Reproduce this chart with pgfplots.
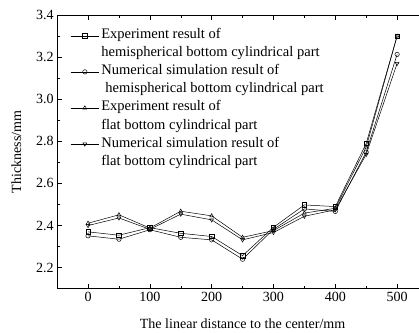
\documentclass[border=0pt]{standalone}
\usepackage{pgfplots}
\pgfplotsset{compat=1.18}
\usepackage{fontspec}
\setmainfont{Liberation Serif}
\begin{document}
\begin{tikzpicture}[font=\fontsize{14bp}{16bp}\selectfont]
\begin{axis}[
  scale only axis,
  width=370bp, height=273bp,
  xmin=-50, xmax=550, ymin=2.1, ymax=3.4,
  xtick={0,100,200,300,400,500},
  minor xtick={50,150,250,350,450},
  ytick={2.2,2.4,2.6,2.8,3.0,3.2,3.4},
  minor ytick={2.3,2.5,2.7,2.9,3.1,3.3},
  yticklabel style={/pgf/number format/.cd,fixed,fixed zerofill,precision=1},
  /pgf/number format/assume math mode=true,
  tick label style={font=\fontsize{14bp}{16bp}\selectfont},
  label style={font=\fontsize{14bp}{16bp}\selectfont},
  tick align=inside,
  major tick length=5bp, minor tick length=3bp,
  tick style={black, line width=0.5pt},
  axis line style={line width=0.8pt},
  xlabel={The linear distance to the center/mm},
  ylabel={Thickness/mm},
  ylabel style={yshift=8bp},
  xlabel style={yshift=-10bp},
  legend cell align=left,
  legend style={draw=none, fill=none, at={(rel axis cs:0,1)}, anchor=north west, xshift=13bp, yshift=-13bp,
    row sep=3bp, column sep=2bp, font=\fontsize{14.5bp}{17bp}\selectfont, inner sep=0pt,
    nodes={inner sep=0pt, text height=10.5bp, text depth=4.5bp}},
  legend image code/.code={\draw[mark repeat=2,mark phase=2] plot coordinates {(0cm,0cm) (0.5cm,0cm) (1.0cm,0cm)};},
  every axis plot/.append style={black, line width=0.5pt, mark size=2.2bp, mark options={solid, fill=white}},
]
\addplot[mark=square] coordinates {(0,2.370) (50,2.354) (100,2.390) (150,2.363) (200,2.348) (250,2.257) (300,2.392) (350,2.498) (400,2.490) (450,2.790) (500,3.300)};
\addlegendentry{Experiment result of}
\addlegendimage{empty legend}
\addlegendentry{hemispherical bottom cylindrical part}
\addplot[mark=o] coordinates {(0,2.351) (50,2.335) (100,2.380) (150,2.344) (200,2.332) (250,2.240) (300,2.382) (350,2.479) (400,2.467) (450,2.749) (500,3.213)};
\addlegendentry{Numerical simulation result of}
\addlegendimage{empty legend}
\addlegendentry{\hspace{4bp}hemispherical bottom cylindrical part}
\addplot[mark=triangle] coordinates {(0,2.411) (50,2.451) (100,2.388) (150,2.468) (200,2.446) (250,2.344) (300,2.376) (350,2.459) (400,2.482) (450,2.773) (500,3.300)};
\addlegendentry{Experiment result of}
\addlegendimage{empty legend}
\addlegendentry{flat bottom cylindrical part}
\addplot[mark=triangle, mark options={rotate=180}] coordinates {(0,2.400) (50,2.436) (100,2.382) (150,2.454) (200,2.427) (250,2.332) (300,2.367) (350,2.444) (400,2.475) (450,2.738) (500,3.170)};
\addlegendentry{Numerical simulation result of}
\addlegendimage{empty legend}
\addlegendentry{flat bottom cylindrical part}
\end{axis}
\pgfresetboundingbox
\path ([xshift=-57bp,yshift=-44bp]current axis.south west) rectangle ([xshift=-9bp,yshift=15bp]current axis.north east);
\end{tikzpicture}
\end{document}
